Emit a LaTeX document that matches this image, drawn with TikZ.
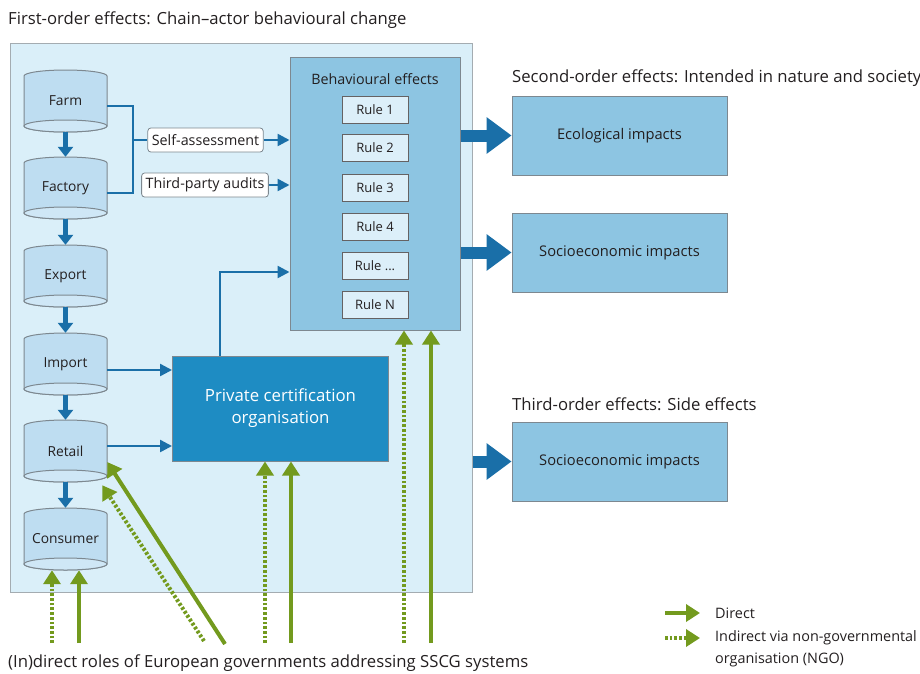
\documentclass[tikz,border=0pt]{standalone}
\usepackage{fontspec}
\setmainfont{Open Sans}
\usetikzlibrary{arrows.meta}
\definecolor{lightbg}{HTML}{DAEFF9}
\definecolor{cylfill}{HTML}{BEDDF1}
\definecolor{cylfilltwo}{HTML}{CFE7F6}
\definecolor{edgegray}{HTML}{7D8890}
\definecolor{darkblue}{HTML}{1A6FA8}
\definecolor{behfill}{HTML}{8DC5E2}
\definecolor{rulefill}{HTML}{DCEFF9}
\definecolor{pcofill}{HTML}{1E8CC3}
\definecolor{gov}{HTML}{739A1E}
\definecolor{textc}{HTML}{231F20}
\newcommand\cylshape[2]{%
  \filldraw[fill=cylfill, draw=edgegray, line width=1pt] (#1-41.5,#2-25) arc[start angle=180,end angle=0,x radius=41.5pt,y radius=6pt] -- (#1+41.5,#2+25) arc[start angle=0,end angle=-180,x radius=41.5pt,y radius=6pt] -- cycle;
  \filldraw[fill=cylfilltwo, draw=edgegray, line width=1pt] (#1,#2+25) ellipse[x radius=41.5pt, y radius=6pt];}
\begin{document}
\begin{tikzpicture}[x=1pt,y=-1pt,
  txt/.style={text=textc, inner sep=0pt},
  title/.style={txt, anchor=west, font=\fontsize{16.7}{19}\selectfont},
  cyl/.style={txt, minimum width=83pt, minimum height=62pt, font=\fontsize{13.8}{16}\selectfont},
  lbl/.style={txt, draw=edgegray, fill=white, rounded corners=3pt, minimum height=24pt, inner xsep=4pt, line width=0.8pt, font=\fontsize{14.3}{16}\selectfont},
  rulebox/.style={txt, draw=textc!70, fill=rulefill, minimum width=66pt, minimum height=27pt, line width=0.8pt, font=\fontsize{13}{15}\selectfont},
  effbox/.style={txt, draw=edgegray, fill=behfill, minimum width=215pt, minimum height=79pt, line width=0.8pt, font=\fontsize{14.7}{17}\selectfont},
  bthick/.style={darkblue, line width=5pt, -{Triangle[width=15pt,length=10pt]}},
  bthin/.style={darkblue, line width=2.5pt, line join=miter},
  barrow/.style={bthin, -{Triangle[width=12pt,length=12pt]}},
  bigarrow/.style={darkblue, line width=12pt, -{Triangle[width=35pt,length=25pt]}},
  gsolid/.style={gov, line width=4pt, -{Triangle[width=17pt,length=14pt]}},
  gdash/.style={gsolid, dash pattern=on 2.7pt off 2pt}
]
\useasboundingbox (0,0) rectangle (920,673);
% main frame
\node[draw=edgegray!70, fill=lightbg, line width=1pt, minimum width=462pt, minimum height=549pt, inner sep=0pt] (first) at (241,317.5) {};
\node[title] (t1) at (8,20) {First-order effects: Chain–actor behavioural change};
\node[title] (t2) at (512,78) {Second-order effects: Intended in nature and society};
\node[title] (t3) at (512,404) {Third-order effects: Side effects};
\node[title] (t4) at (8,663) {(In)direct roles of European governments addressing SSCG systems};
% cylinders
\foreach \cy in {101,188,276,364,451,539} {\cylshape{65.5}{\cy}}
\node[cyl] (farm) at (65.5,101) {Farm};
\node[cyl] (factory) at (65.5,188) {Factory};
\node[cyl] (export) at (65.5,276) {Export};
\node[cyl] (import) at (65.5,364) {Import};
\node[cyl] (retail) at (65.5,451) {Retail};
\node[cyl] (consumer) at (65.5,539) {Consumer};
\draw[bthick] (farm.south) -- (factory.north);
\draw[bthick] (factory.south) -- (export.north);
\draw[bthick] (export.south) -- (import.north);
\draw[bthick] (import.south) -- (retail.north);
\draw[bthick] (retail.south) -- (consumer.north);
% behavioural box
\node[draw=edgegray, fill=behfill, line width=1pt, minimum width=170pt, minimum height=273pt, inner sep=0pt] (beh) at (375,193.5) {};
\node[txt, font=\fontsize{14.3}{16}\selectfont] (behtitle) at (375,79) {Behavioural effects};
\node[rulebox] (r1) at (375,109.5) {Rule 1};
\node[rulebox] (r2) at (375,148) {Rule 2};
\node[rulebox] (r3) at (375,187.5) {Rule 3};
\node[rulebox] (r4) at (375,226.5) {Rule 4};
\node[rulebox] (r5) at (375,265.5) {Rule ...};
\node[rulebox] (r6) at (375,305) {Rule N};
% labels
\node[lbl] (sa) at (205.5,140) {Self-assessment};
\node[lbl] (tpa) at (205,185) {Third-party audits};
\coordinate (j1) at (133,106);
\coordinate (j2) at (133,193);
\coordinate (j) at (133,140);
\draw[bthin] ([yshift=-5pt]farm.east) -- (j1) -- (j2) -- ([yshift=-5pt]factory.east);
\draw[bthin] (j) -- (sa.west);
\draw[barrow] (sa.east) -- (sa.east -| beh.west);
\draw[barrow] (tpa.east) -- (tpa.east -| beh.west);
% PCO
\node[draw=edgegray, fill=pcofill, line width=1pt, minimum width=216pt, minimum height=105pt, text=white, align=center, font=\fontsize{16.8}{22}\selectfont] (pco) at (280.5,408.5) {Private certification\\organisation};
\draw[barrow] ([yshift=-6pt]import.east) -- ([yshift=-6pt]import.east -| pco.west);
\draw[barrow] ([yshift=5pt]retail.east) -- ([yshift=5pt]retail.east -| pco.west);
\coordinate (k) at (220,272);
\draw[barrow] (pco.north -| k) -- (k) -- (k -| beh.west);
% effect boxes
\node[effbox] (eco) at (619.5,135.5) {Ecological impacts};
\node[effbox] (soc1) at (619.5,252.5) {Socioeconomic impacts};
\node[effbox] (soc2) at (619.5,461.5) {Socioeconomic impacts};
\draw[bigarrow] (beh.east |- eco.west) -- (eco.west);
\draw[bigarrow] (beh.east |- soc1.west) -- (soc1.west);
\draw[bigarrow] (first.east |- soc2.west) -- (soc2.west);
% government arrows
\coordinate (g1) at (52,643);
\coordinate (g2) at (79,643);
\coordinate (g3) at (204,641);
\coordinate (g4) at (225,644);
\coordinate (g5) at (265,643);
\coordinate (g6) at (291,643);
\coordinate (g7) at (404,643);
\coordinate (g8) at (431,643);
\draw[gdash] (g1) -- (g1 |- consumer.south);
\draw[gsolid] (g2) -- (g2 |- consumer.south);
\draw[gdash] (g3) -- ([xshift=-5pt,yshift=-3pt]retail.south east);
\draw[gsolid] (g4) -- ([yshift=-11pt]retail.east);
\draw[gdash] (g5) -- (g5 |- pco.south);
\draw[gsolid] (g6) -- (g6 |- pco.south);
\draw[gdash] (g7) -- (g7 |- beh.south);
\draw[gsolid] (g8) -- (g8 |- beh.south);
% legend
\node[txt, anchor=west, font=\fontsize{14.4}{22}\selectfont] (leg1) at (715,613) {Direct};
\node[txt, anchor=west, align=left, font=\fontsize{14.4}{22}\selectfont] (leg2) at (715,649) {Indirect via non-governmental\\organisation (NGO)};
\coordinate (l1) at (665,613);
\coordinate (l2) at (665,638);
\draw[gsolid] (l1) -- ([xshift=-15pt]leg1.west);
\draw[gdash] (l2) -- (l2 -| l1) -- ([xshift=-15pt,yshift=11pt]leg2.west);
\end{tikzpicture}
\end{document}
